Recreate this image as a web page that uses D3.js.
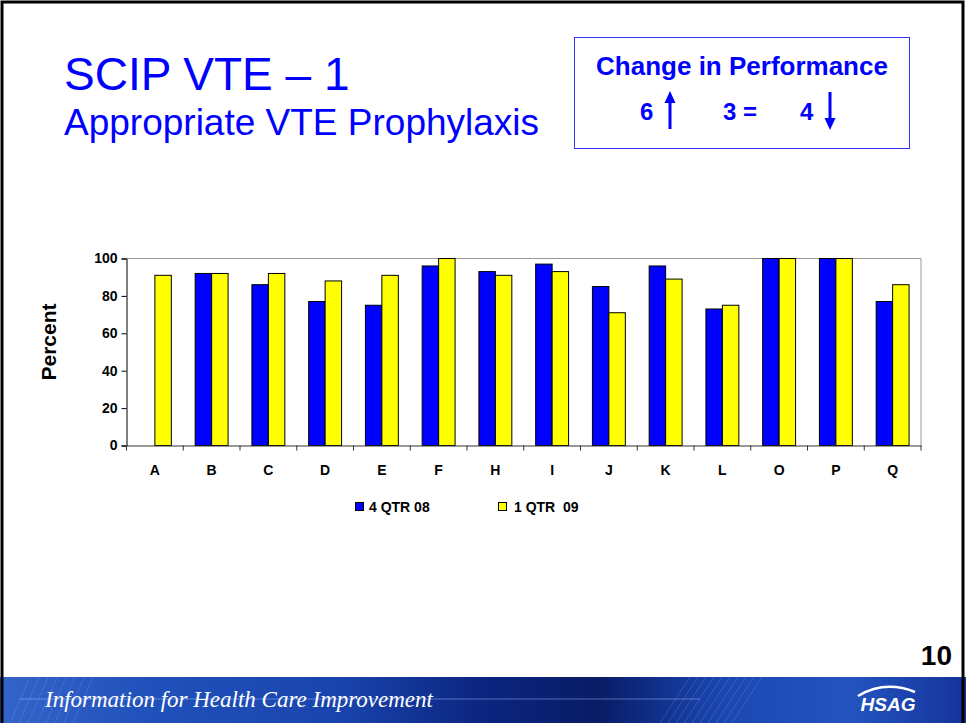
<!DOCTYPE html>
<html>
<head>
<meta charset="utf-8">
<script src="https://cdn.jsdelivr.net/npm/d3@7/dist/d3.min.js"></script>
<style>
  html, body { margin: 0; padding: 0; background: #fff; }
  svg { display: block; }
</style>
</head>
<body>
<svg id="slide" width="966" height="723"></svg>
<script>
// ---- data ----
const categories = ["A","B","C","D","E","F","H","I","J","K","L","O","P","Q"];
const seriesNames = ["4 QTR 08", "1 QTR  09"];
const q4_08 = [null, 92, 86, 77, 75, 96, 93, 97, 85, 96, 73, 100, 100, 77];
const q1_09 = [91, 92, 92, 88, 91, 100, 91, 93, 71, 89, 75, 100, 100, 86];
const yTicks = [0, 20, 40, 60, 80, 100];
const changeCounts = { up: 6, same: 3, down: 4 };

(function () {
const svg = d3.select("#slide");
const W = 966, H = 723;
const colors = ["#0000ff", "#ffff00"];
const bf = "'Liberation Sans', Arial, sans-serif";

// ---- footer banner ----
const defs = svg.append("defs");
const grad = defs.append("linearGradient").attr("id", "foot").attr("x1", "0").attr("x2", "1").attr("y1", "0").attr("y2", "0");
[[0, "#3564c8"], [0.15, "#2151bb"], [0.35, "#1a44ad"], [0.5, "#0b2580"], [0.62, "#081c66"], [0.75, "#1b47b2"], [0.88, "#2454c0"], [1, "#14339a"]]
  .forEach(([o, c]) => grad.append("stop").attr("offset", o).attr("stop-color", c));
svg.append("rect").attr("x", 0).attr("y", 677).attr("width", W).attr("height", H - 677).attr("fill", "url(#foot)");
const streaks = svg.append("g").attr("stroke", "#7fa0ff").attr("stroke-opacity", 0.25).attr("stroke-width", 1);
d3.range(8).forEach(i => streaks.append("line").attr("x1", 10 + i * 9).attr("y1", 723).attr("x2", 30 + i * 9).attr("y2", 677));
d3.range(10).forEach(i => streaks.append("line").attr("x1", 660 + i * 8).attr("y1", 723).attr("x2", 690 + i * 8).attr("y2", 677));
svg.append("line").attr("x1", 20).attr("x2", 700).attr("y1", 699).attr("y2", 699).attr("stroke", "#9fb8ff").attr("stroke-opacity", 0.5);
svg.append("text").attr("x", 45).attr("y", 707)
  .attr("font-family", "'Liberation Serif', 'DejaVu Serif', serif").attr("font-style", "italic")
  .attr("font-size", 23).attr("fill", "#ffffff").text("Information for Health Care Improvement");
svg.append("path").attr("d", "M858,696 Q885,680 915,692").attr("fill", "none").attr("stroke", "#ffffff").attr("stroke-width", 2.5);
svg.append("text").attr("x", 888).attr("y", 711).attr("text-anchor", "middle")
  .attr("font-family", bf).attr("font-weight", "bold").attr("font-style", "italic")
  .attr("font-size", 19).attr("fill", "#ffffff").text("HSAG");

// ---- slide border ----
svg.append("rect").attr("x", 2).attr("y", 2).attr("width", 961).attr("height", 740)
  .attr("fill", "none").attr("stroke", "#000").attr("stroke-width", 3);

// page number
svg.append("text").attr("x", 952).attr("y", 665).attr("text-anchor", "end")
  .attr("font-family", bf).attr("font-weight", "bold")
  .attr("font-size", 28).attr("fill", "#000").text("10");

// ---- titles ----
svg.append("text").attr("x", 64).attr("y", 90)
  .attr("font-family", bf).attr("font-size", 46).attr("fill", "#0000ff")
  .text("SCIP VTE \u2013 1");
svg.append("text").attr("x", 64).attr("y", 135)
  .attr("font-family", bf).attr("font-size", 37).attr("fill", "#0000ff")
  .text("Appropriate VTE Prophylaxis");

// ---- change box ----
const box = svg.append("g");
box.append("rect").attr("x", 574.5).attr("y", 37.5).attr("width", 335).attr("height", 111)
  .attr("fill", "#fff").attr("stroke", "#3333ff").attr("stroke-width", 1);
box.append("text").attr("x", 742).attr("y", 75).attr("text-anchor", "middle")
  .attr("font-family", bf).attr("font-weight", "bold").attr("font-size", 26).attr("fill", "#0000ff")
  .text("Change in Performance");
box.append("text").attr("x", 640).attr("y", 120)
  .attr("font-family", bf).attr("font-weight", "bold").attr("font-size", 24).attr("fill", "#0000ff").text(changeCounts.up);
box.append("text").attr("x", 723).attr("y", 120)
  .attr("font-family", bf).attr("font-weight", "bold").attr("font-size", 24).attr("fill", "#0000ff").text(changeCounts.same + " =");
box.append("text").attr("x", 800).attr("y", 120)
  .attr("font-family", bf).attr("font-weight", "bold").attr("font-size", 24).attr("fill", "#0000ff").text(changeCounts.down);
box.append("line").attr("x1", 670).attr("x2", 670).attr("y1", 100).attr("y2", 129).attr("stroke", "#0000ff").attr("stroke-width", 3);
box.append("path").attr("d", "M664.5,103 L670,91 L675.5,103 Z").attr("fill", "#0000ff");
box.append("line").attr("x1", 830).attr("x2", 830).attr("y1", 92).attr("y2", 121).attr("stroke", "#0000ff").attr("stroke-width", 3);
box.append("path").attr("d", "M824.5,118 L830,130 L835.5,118 Z").attr("fill", "#0000ff");

// ---- chart ----
const pl = 126.5, pr = 921, pt = 258.5, pb = 445.5;
const x = d3.scaleBand().domain(categories).range([pl, pr]).padding(0);
const x1 = d3.scaleBand().domain(seriesNames).range([0.21 * x.bandwidth(), 0.79 * x.bandwidth()]).padding(0);
const y = d3.scaleLinear().domain([0, 100]).range([pb, pt]);

const chart = svg.append("g");
chart.append("line").attr("x1", pl).attr("x2", pr).attr("y1", pt).attr("y2", pt).attr("stroke", "#999").attr("stroke-width", 1);
chart.append("line").attr("x1", pr).attr("x2", pr).attr("y1", pt).attr("y2", pb).attr("stroke", "#999").attr("stroke-width", 1);

const series = [q4_08, q1_09];
series.forEach((vals, si) => {
  chart.append("g").selectAll("rect")
    .data(categories.map((c, i) => ({ c, v: vals[i] })).filter(d => d.v != null))
    .join("rect")
    .attr("x", d => x(d.c) + x1(seriesNames[si]))
    .attr("y", d => y(d.v))
    .attr("width", x1.bandwidth())
    .attr("height", d => y(0) - y(d.v))
    .attr("fill", colors[si])
    .attr("stroke", "#000")
    .attr("stroke-width", 1);
});

const yAxis = chart.append("g").attr("transform", `translate(${pl},0)`)
  .call(d3.axisLeft(y).tickValues(yTicks).tickSize(5).tickPadding(4));
yAxis.select(".domain").attr("stroke", "#000");
yAxis.selectAll(".tick line").attr("stroke", "#000");
yAxis.selectAll("text").attr("font-family", bf).attr("font-weight", "bold").attr("font-size", 14).attr("fill", "#000");

const xAxis = chart.append("g").attr("transform", `translate(0,${pb})`)
  .call(d3.axisBottom(x).tickSize(0).tickPadding(20));
xAxis.select(".domain").attr("stroke", "#333").attr("stroke-width", 1.2);
xAxis.selectAll("text").attr("font-family", bf).attr("font-weight", "bold").attr("font-size", 14).attr("fill", "#000");
const bounds = categories.map(c => x(c)).concat([x.range()[1]]);
chart.append("g").selectAll("line").data(bounds).join("line")
  .attr("x1", d => d).attr("x2", d => d).attr("y1", pb).attr("y2", pb + 5)
  .attr("stroke", "#333").attr("stroke-width", 1);

svg.append("text").attr("transform", "translate(56,342) rotate(-90)").attr("text-anchor", "middle")
  .attr("font-family", bf).attr("font-weight", "bold").attr("font-size", 21).attr("fill", "#000").text("Percent");

const legendPos = [{ sx: 355, tx: 369 }, { sx: 498, tx: 514 }];
const leg = svg.append("g");
seriesNames.forEach((name, i) => {
  leg.append("rect").attr("x", legendPos[i].sx + 0.5).attr("y", 502.5).attr("width", 8).attr("height", 8)
    .attr("fill", colors[i]).attr("stroke", "#000").attr("stroke-width", 1);
  leg.append("text").attr("x", legendPos[i].tx).attr("y", 512)
    .style("white-space", "pre")
    .attr("font-family", bf).attr("font-weight", "bold").attr("font-size", 14).attr("fill", "#000").text(name);
});
})();
</script>
</body>
</html>
